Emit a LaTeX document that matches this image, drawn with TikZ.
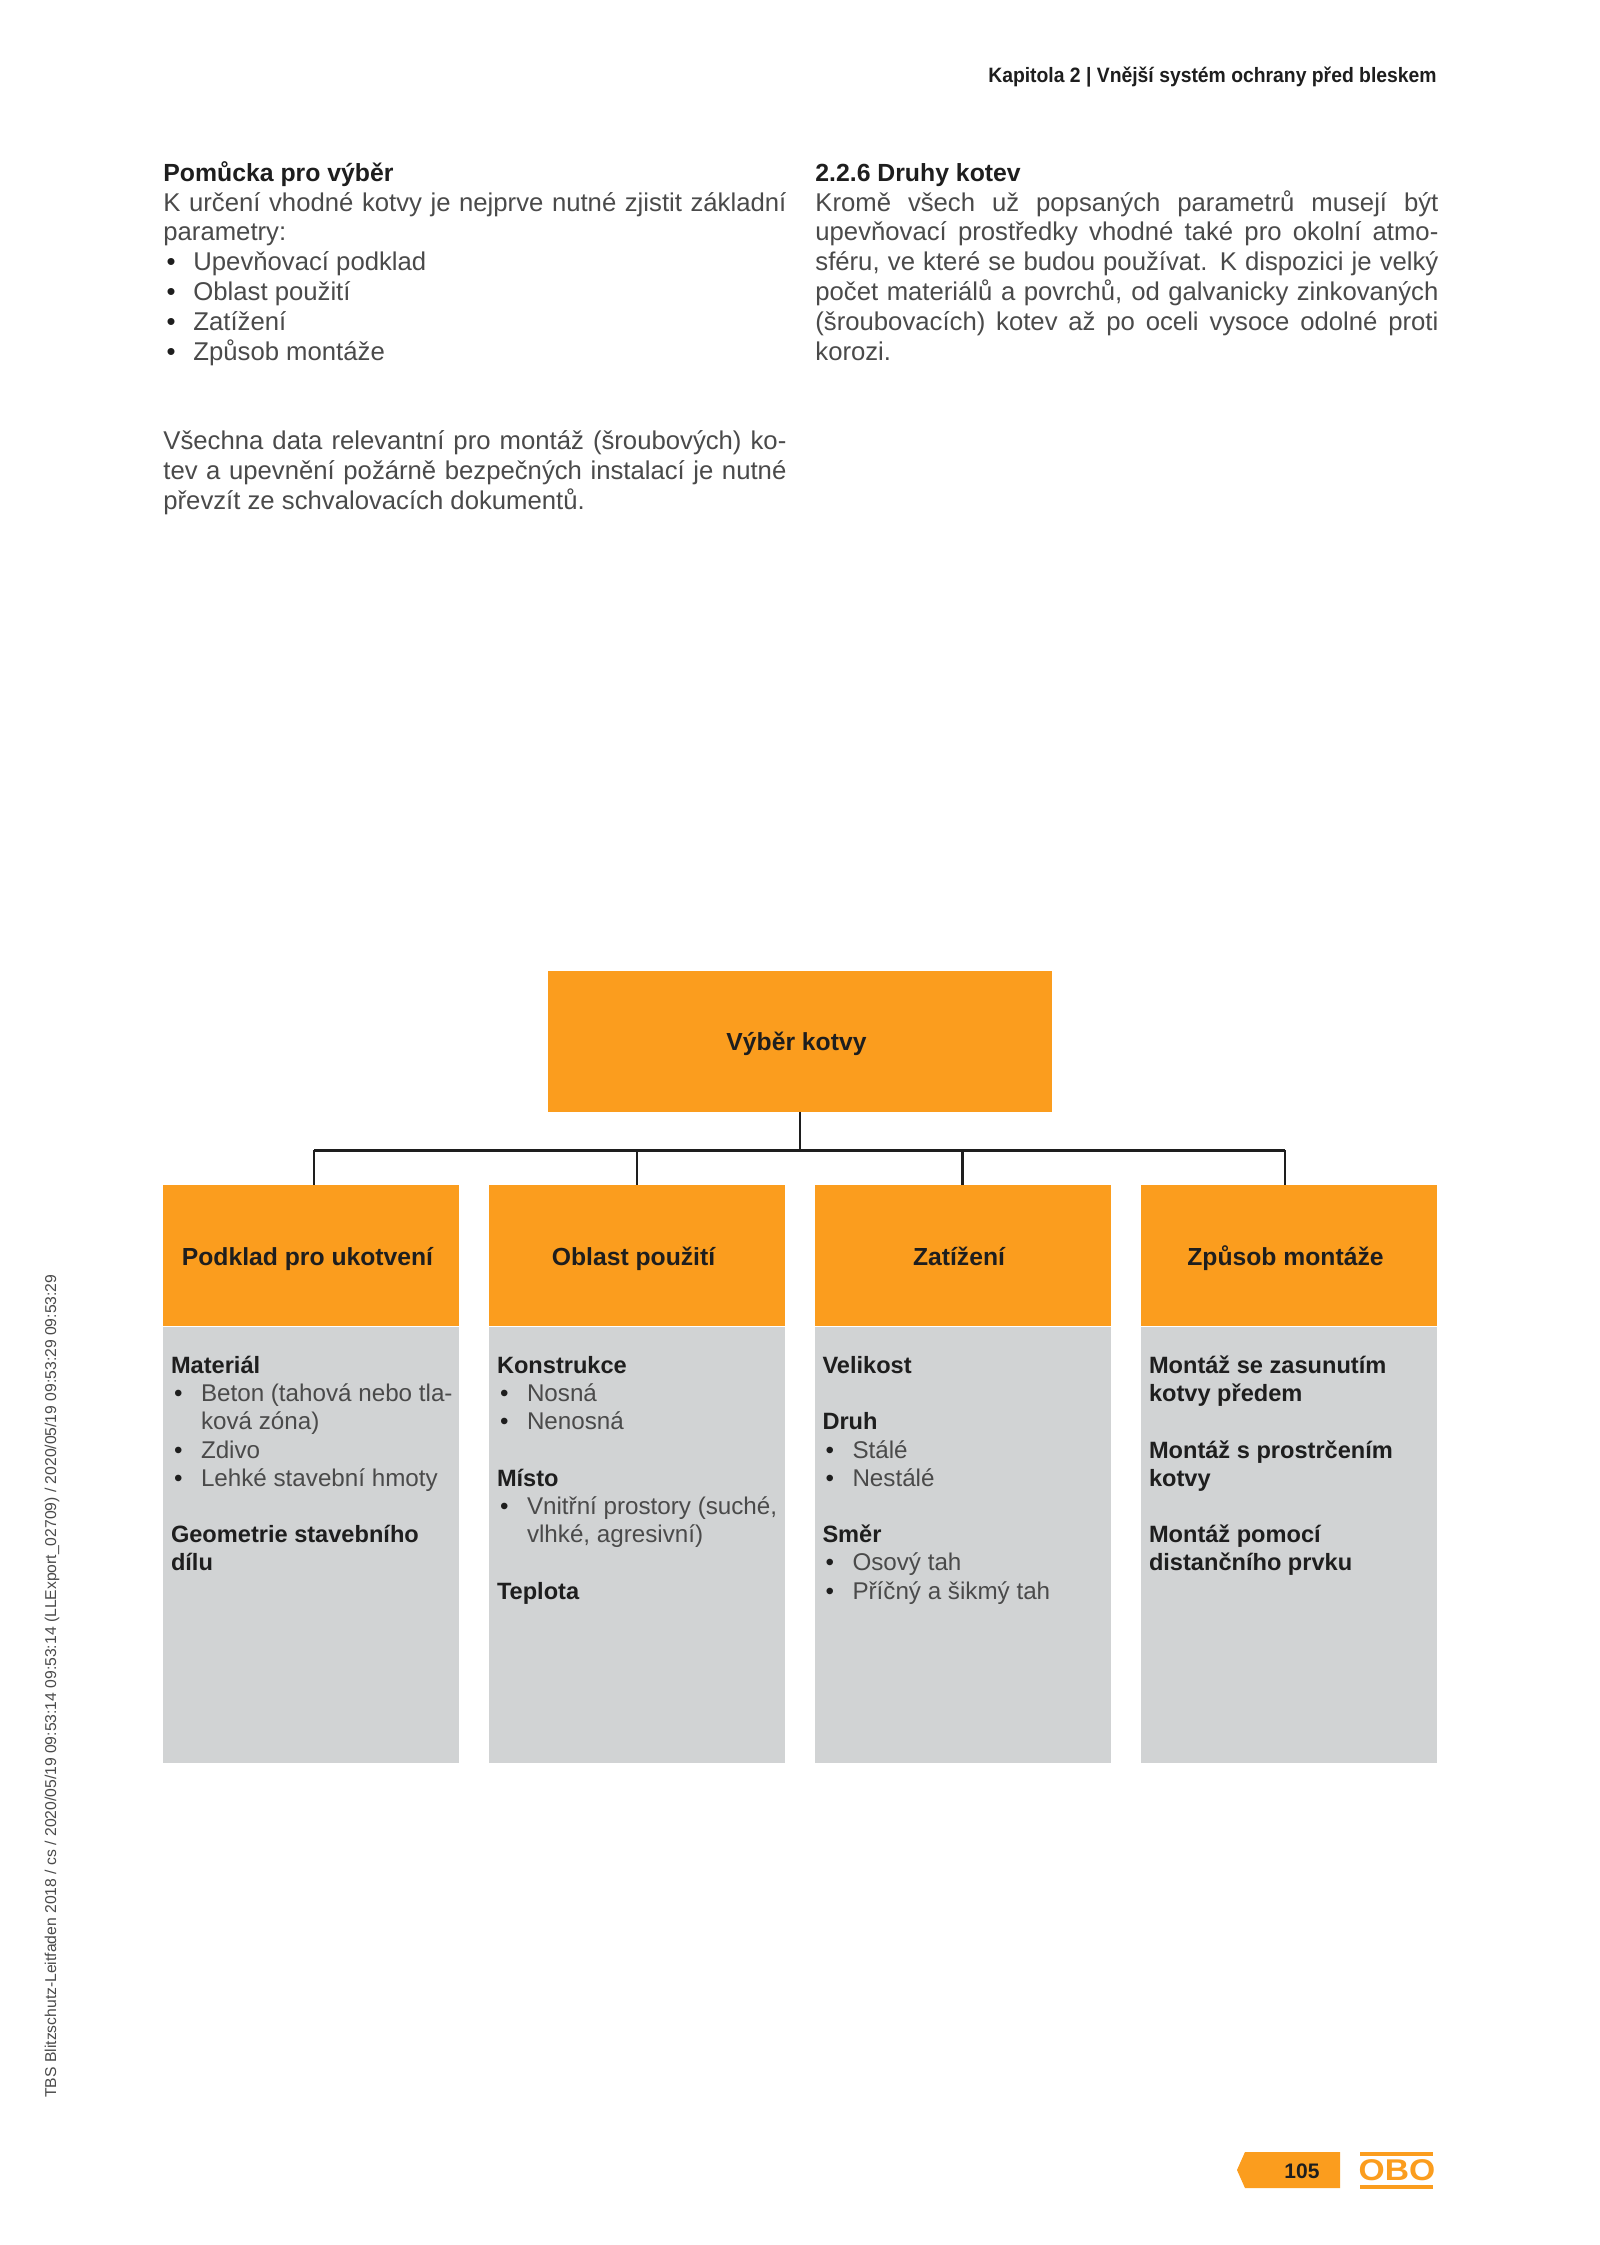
\documentclass[tikz,border=0pt]{standalone}
\usepackage{fontspec}
\setmainfont{Liberation Sans}
\usepackage{xcolor}
\definecolor{oboorange}{HTML}{FB9D1E}
\definecolor{panelgrey}{HTML}{D1D3D4}
\definecolor{bodyink}{HTML}{4A4A4A}
\definecolor{headink}{HTML}{1E1E1E}
\newcommand{\bitem}[1]{\par\hangindent=15pt\hangafter=1\noindent\hbox to 15pt{\hspace{1.6pt}\textcolor{headink}{\textbullet}\hss}#1}
\newcommand{\headline}[1]{\textcolor{headink}{\textbf{#1}}}
\newcommand{\panelhead}[1]{\headline{\fontsize{11.8}{14.1}\selectfont #1}}
\tikzset{
    orangebox/.style={fill=oboorange, minimum width=148pt, minimum height=70.5pt, inner sep=0pt, text=headink, text height=11pt, text depth=1.5pt, font=\fontsize{12.35}{15}\selectfont\bfseries, execute at end node={\hspace*{3.5pt}}},
    greybox/.style={fill=panelgrey, minimum width=148pt, minimum height=218pt, inner sep=0pt},
    paneltext/.style={anchor=north west, text width=146pt, inner sep=0pt, align=flush left, text=bodyink, font=\fontsize{12.1}{14.1}\selectfont},
    pagetext/.style={anchor=north west, text width=311.5pt, inner sep=0pt, align=justify, text=bodyink, font=\fontsize{12.85}{14.9}\selectfont},
    busline/.style={draw=headink, line width=1.1pt}
}

\begin{document}
\begin{tikzpicture}[x=0.5pt, y=-0.5pt]

    % Page frame
    \useasboundingbox (0,0) rectangle (1600,2245);
    \fill[white] (0,0) rectangle (1600,2245);

    % Running header and side note
    \node[anchor=east, inner sep=0pt, xscale=0.93, text=headink, text height=8pt, text depth=2pt, font=\fontsize{10.4}{13}\selectfont\bfseries] (header) at (1437,76) {Kapitola 2 | Vnější systém ochrany před bleskem};
    \node[anchor=west, rotate=90, inner sep=0pt, text=bodyink, font=\fontsize{7.85}{10}\selectfont] (sidenote) at (52,2098) {TBS Blitzschutz-Leitfaden 2018 / cs / 2020/05/19 09:53:14 09:53:14 (LLExport\_02709) / 2020/05/19 09:53:29 09:53:29};

    % Two columns of page text
    \node[pagetext] (leftcol) at (163,160) {\strut\headline{\fontsize{12.4}{14.9}\selectfont Pomůcka pro výběr}\par
        K určení vhodné kotvy je nejprve nutné zjistit základní\linebreak parametry:
        \bitem{Upevňovací podklad}
        \bitem{Oblast použití}
        \bitem{Zatížení}
        \bitem{Způsob montáže}
        \par\vspace{29.8pt}
        Všechna data relevantní pro montáž (šroubových) ko-\linebreak
        tev a upevnění požárně bezpečných instalací je nutné\linebreak
        převzít ze schvalovacích dokumentů.};
    \node[pagetext] (rightcol) at (815,160) {\strut\headline{\fontsize{12.4}{14.9}\selectfont 2.2.6 Druhy kotev}\par
        Kromě všech už popsaných parametrů musejí být\linebreak
        upevňovací prostředky vhodné také pro okolní atmo-\linebreak
        sféru, ve které se budou používat. K dispozici je velký\linebreak
        počet materiálů a povrchů, od galvanicky zinkovaných\linebreak
        (šroubovacích) kotev až po oceli vysoce odolné proti\linebreak
        korozi.};

    % Top of the tree
    \node[orangebox, minimum width=252pt] (vyber) at (800,1041) {Výběr kotvy};

    % Orange heads
    \node[orangebox] (podklad) at (311,1255.5) {Podklad pro ukotvení};
    \node[orangebox] (oblast) at (637,1255.5) {Oblast použití};
    \node[orangebox] (zatizeni) at (962.5,1255.5) {Zatížení};
    \node[orangebox] (zpusob) at (1289,1255.5) {Způsob montáže};

    % Grey panels below the heads
    \node[greybox, anchor=north] (podkladpanel) at (podklad.south) {};
    \node[greybox, anchor=north] (oblastpanel) at (oblast.south) {};
    \node[greybox, anchor=north] (zatizenipanel) at (zatizeni.south) {};
    \node[greybox, anchor=north] (zpusobpanel) at (zpusob.south) {};

    % Panel texts
    \node[paneltext] (podkladtext) at ([xshift=4pt, yshift=-13.5pt]podkladpanel.north west) {\strut\panelhead{Materiál}
        \bitem{Beton (tahová nebo tla-\newline ková zóna)}
        \bitem{Zdivo}
        \bitem{Lehké stavební hmoty}
        \par\vspace{14.1pt}
        \panelhead{Geometrie stavebního\newline dílu}};
    \node[paneltext] (oblasttext) at ([xshift=4pt, yshift=-13.5pt]oblastpanel.north west) {\strut\panelhead{Konstrukce}
        \bitem{Nosná}
        \bitem{Nenosná}
        \par\vspace{14.1pt}
        \panelhead{Místo}
        \bitem{Vnitřní prostory (suché,\newline vlhké, agresivní)}
        \par\vspace{14.1pt}
        \panelhead{Teplota}};
    \node[paneltext] (zatizenitext) at ([xshift=4pt, yshift=-13.5pt]zatizenipanel.north west) {\strut\panelhead{Velikost}
        \par\vspace{14.1pt}
        \panelhead{Druh}
        \bitem{Stálé}
        \bitem{Nestálé}
        \par\vspace{14.1pt}
        \panelhead{Směr}
        \bitem{Osový tah}
        \bitem{Příčný a šikmý tah}};
    \node[paneltext] (zpusobtext) at ([xshift=4pt, yshift=-13.5pt]zpusobpanel.north west) {\strut\panelhead{Montáž se zasunutím\newline kotvy předem}
        \par\vspace{14.1pt}
        \panelhead{Montáž s prostrčením\newline kotvy}
        \par\vspace{14.1pt}
        \panelhead{Montáž pomocí\newline distančního prvku}};

    % Connectors
    \coordinate (bus) at (800,1150);
    \coordinate (podkladdrop) at ([xshift=1.5pt]podklad.north);
    \coordinate (zpusobdrop) at ([xshift=-2pt]zpusob.north);
    \draw[busline] (vyber.south) -- (bus);
    \draw[busline, line width=1.5pt] (podkladdrop |- bus) -- (zpusobdrop |- bus);
    \draw[busline] (podkladdrop |- bus) -- (podkladdrop);
    \draw[busline] (oblast.north |- bus) -- (oblast.north);
    \draw[busline] (zatizeni.north |- bus) -- (zatizeni.north);
    \draw[busline] (zpusobdrop |- bus) -- (zpusobdrop);

    % Page tag and logo
    \fill[oboorange] (1237,2170) -- (1245,2152) -- (1340,2152) -- (1340,2188) -- (1245,2188) -- cycle;
    \node[inner sep=0pt, text=headink, font=\fontsize{10.5}{12}\selectfont\bfseries] (pagenum) at (1302,2171) {105};
    \fill[oboorange] (1360,2152) rectangle (1433,2155.5);
    \fill[oboorange] (1360,2185) rectangle (1433,2188.5);
    \node[inner sep=0pt, xscale=1.12, text=oboorange, font=\fontsize{15}{16}\selectfont\bfseries] (obologo) at (1397,2170) {OBO};

\end{tikzpicture}
\end{document}
